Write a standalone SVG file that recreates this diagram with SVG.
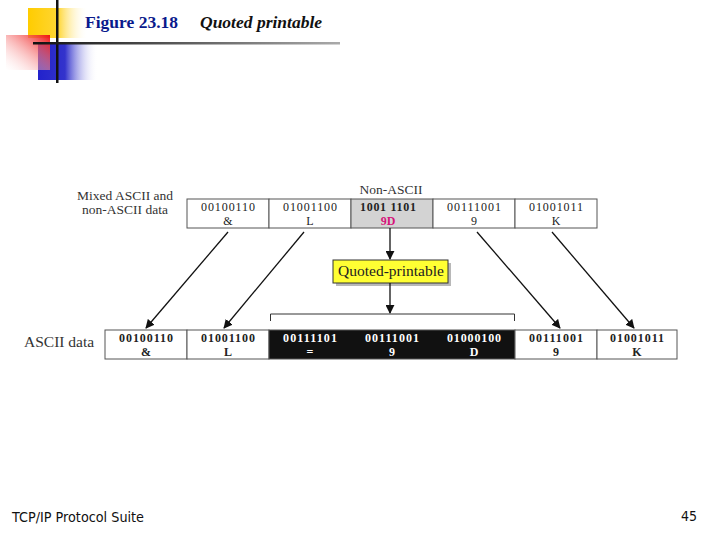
<svg xmlns="http://www.w3.org/2000/svg" width="720" height="540" viewBox="0 0 720 540">
<defs>
<linearGradient id="gy" x1="0" x2="1" y1="0" y2="0"><stop offset="0" stop-color="#ffcc00"/><stop offset="0.5" stop-color="#ffd633"/><stop offset="1" stop-color="#ffffff" stop-opacity="0"/></linearGradient>
<linearGradient id="gr" x1="1" x2="0" y1="0" y2="1"><stop offset="0" stop-color="#ee1111"/><stop offset="1" stop-color="#ffffff" stop-opacity="0.2"/></linearGradient>
<linearGradient id="gb" x1="0" x2="1" y1="0" y2="0"><stop offset="0" stop-color="#2222cc"/><stop offset="0.45" stop-color="#3333cc"/><stop offset="1" stop-color="#ffffff" stop-opacity="0"/></linearGradient>
<linearGradient id="gl" x1="0" x2="1" y1="0" y2="0"><stop offset="0" stop-color="#111111"/><stop offset="1" stop-color="#aaaaaa"/></linearGradient>
<marker id="ah" viewBox="0 0 10 10" refX="9" refY="5" markerWidth="9" markerHeight="9" markerUnits="userSpaceOnUse" orient="auto"><path d="M0,0 L10,5 L0,10 z" fill="#111"/></marker>
<style>
.t{font-family:"Liberation Serif","Times New Roman",serif;font-size:12px;fill:#222;text-anchor:middle}
.b{font-family:"Liberation Serif","Times New Roman",serif;font-size:12px;font-weight:bold;fill:#222;text-anchor:middle}
.w{fill:#fff}
.lbl{font-family:"Liberation Serif","Times New Roman",serif;font-size:13.5px;fill:#333;text-anchor:middle}
.cell{fill:#fff;stroke:#555;stroke-width:1}
.dark{fill:#111;stroke:#555;stroke-width:1}
.ln{stroke:#111;stroke-width:1.3;fill:none}
</style>
</defs>
<g id="decor">
<rect x="28" y="8" width="60" height="30" fill="url(#gy)"/>
<rect x="38" y="43" width="60" height="37" fill="url(#gb)"/>
<rect x="6" y="35" width="44" height="35" fill="url(#gr)"/>
<rect x="56" y="0" width="2.5" height="83" fill="#111"/>
<rect x="33" y="42" width="307" height="2.5" fill="url(#gl)"/>
</g>
<g id="title">
<text x="85" y="28" font-family="Liberation Serif,serif" font-size="17.5" font-weight="bold" fill="#0a1a8c">Figure 23.18</text>
<text x="200" y="28" font-family="Liberation Serif,serif" font-size="17.5" font-weight="bold" font-style="italic" fill="#111">Quoted printable</text>
</g>
<g id="labels">
<text class="lbl" x="125" y="200">Mixed ASCII and</text>
<text class="lbl" x="125" y="214">non-ASCII data</text>
<text class="lbl" x="391" y="194">Non-ASCII</text>
<text x="24" y="347" font-family="Liberation Serif,serif" font-size="15.5" fill="#333">ASCII data</text>
</g>
<g id="top-row">
<rect class="cell" x="187" y="199" width="82" height="29"/>
<rect class="cell" x="269" y="199" width="82" height="29"/>
<rect x="351" y="199" width="82" height="29" fill="#d3d3d3" stroke="#555"/>
<rect class="cell" x="433" y="199" width="82" height="29"/>
<rect class="cell" x="515" y="199" width="82" height="29"/>
<text class="t" x="228" y="211" textLength="54">00100110</text><text class="t" x="228" y="225">&amp;</text>
<text class="t" x="310" y="211" textLength="54">01001100</text><text class="t" x="310" y="225">L</text>
<text class="b" x="388" y="211" textLength="56">1001 1101</text><text class="b" x="388" y="225" style="fill:#d6147a">9D</text>
<text class="t" x="474" y="211" textLength="54">00111001</text><text class="t" x="474" y="225">9</text>
<text class="t" x="556" y="211" textLength="54">01001011</text><text class="t" x="556" y="225">K</text>
</g>
<g id="quoted-printable">
<rect x="336" y="263" width="115" height="23" fill="#888" opacity="0.6"/>
<rect x="333" y="260" width="115" height="23" fill="#ffff33" stroke="#333" stroke-width="1"/>
<text x="391" y="276" font-family="Liberation Serif,serif" font-size="15.5" fill="#222" text-anchor="middle">Quoted-printable</text>
</g>
<g id="bottom-row">
<rect class="cell" x="105" y="330" width="82" height="29"/>
<rect class="cell" x="187" y="330" width="82" height="29"/>
<rect class="dark" x="269" y="330" width="246" height="29"/>
<rect class="cell" x="515" y="330" width="82" height="29"/>
<rect class="cell" x="597" y="330" width="80" height="29"/>
<text class="b" x="146" y="342" textLength="54">00100110</text><text class="b" x="146" y="356">&amp;</text>
<text class="b" x="228" y="342" textLength="54">01001100</text><text class="b" x="228" y="356">L</text>
<text class="b w" x="310" y="342" textLength="54">00111101</text><text class="b w" x="310" y="356">=</text>
<text class="b w" x="392" y="342" textLength="54">00111001</text><text class="b w" x="392" y="356">9</text>
<text class="b w" x="474" y="342" textLength="54">01000100</text><text class="b w" x="474" y="356">D</text>
<text class="b" x="556" y="342" textLength="54">00111001</text><text class="b" x="556" y="356">9</text>
<text class="b" x="637" y="342" textLength="54">01001011</text><text class="b" x="637" y="356">K</text>
</g>
<g id="connectors">
<line class="ln" x1="228" y1="232" x2="146" y2="328" marker-end="url(#ah)"/>
<line class="ln" x1="304" y1="232" x2="224" y2="328" marker-end="url(#ah)"/>
<line class="ln" x1="477" y1="232" x2="560" y2="328" marker-end="url(#ah)"/>
<line class="ln" x1="552" y1="232" x2="634" y2="328" marker-end="url(#ah)"/>
<line class="ln" x1="390" y1="228" x2="390" y2="259" marker-end="url(#ah)"/>
<line class="ln" x1="390" y1="283" x2="390" y2="313" marker-end="url(#ah)"/>
<path d="M270.5,321 V314 H514.5 V321" fill="none" stroke="#333" stroke-width="1"/>
</g>
<g id="footer">
<text x="12" y="522" font-family="DejaVu Sans Condensed,DejaVu Sans,sans-serif" font-size="13.5" fill="#111" textLength="132" lengthAdjust="spacingAndGlyphs">TCP/IP Protocol Suite</text>
<text x="697" y="521" font-family="DejaVu Sans Condensed,DejaVu Sans,sans-serif" font-size="14" fill="#111" text-anchor="end">45</text>
</g>
</svg>
